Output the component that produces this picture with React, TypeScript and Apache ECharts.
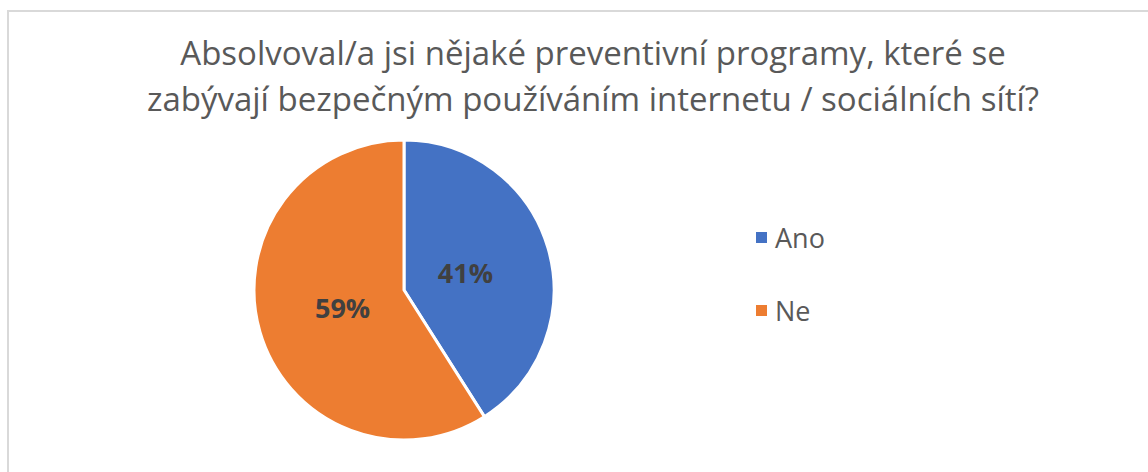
import React, { useEffect, useRef } from "react";
import * as echarts from "echarts";

const titleLines = [
  "Absolvoval/a jsi nějaké preventivní programy, které se",
  "zabývají bezpečným používáním internetu / sociálních sítí?",
];
const categories = ["Ano", "Ne"];
const values = [41, 59];
const colors = ["#4472C4", "#ED7D31"];

export default function App() {
  const ref = useRef<HTMLDivElement>(null);
  useEffect(() => {
    if (!ref.current) return;
    const chart = echarts.init(ref.current, null, { renderer: "svg" });
    const data = categories.map((name, i) => ({
      name,
      value: values[i],
      itemStyle: { color: colors[i] },
    }));
    const font = "'Open Sans', 'Noto Sans', sans-serif";
    chart.setOption({
      animation: false,
      backgroundColor: "#ffffff",
      textStyle: { fontFamily: font },
      title: {
        text: titleLines.join("\n"),
        left: 588,
        top: 24,
        textAlign: "center",
        textStyle: {
          fontFamily: font,
          fontSize: 33,
          fontWeight: "normal",
          color: "#595959",
          lineHeight: 46,
        },
      },
      legend: {
        orient: "vertical",
        left: 749,
        top: 219,
        itemWidth: 13,
        itemHeight: 13,
        itemGap: 46,
        icon: "rect",
        data: categories,
        textStyle: { fontFamily: font, fontSize: 27, color: "#595959", padding: [0, 0, 0, 2] },
      },
      graphic: [
        {
          type: "rect",
          shape: { x: 8, y: 11, width: 1160, height: 480 },
          style: { fill: "none", stroke: "#d9d9d9", lineWidth: 2 },
          silent: true,
        },
      ],
      series: [
        {
          type: "pie",
          center: [404, 290],
          radius: [0, 150],
          startAngle: 90,
          clockwise: true,
          label: { show: false },
          labelLine: { show: false },
          itemStyle: { borderColor: "#ffffff", borderWidth: 3 },
          emphasis: { disabled: true },
          data,
        },
        {
          type: "pie",
          center: [404, 290],
          radius: [0, 122],
          startAngle: 90,
          clockwise: true,
          silent: true,
          itemStyle: { color: "transparent", borderWidth: 0 },
          labelLine: { show: false },
          emphasis: { disabled: true },
          label: {
            show: true,
            position: "inside",
            formatter: (p: any) => `${p.value}%`,
            fontFamily: font,
            fontSize: 27,
            fontWeight: "bold",
            color: "#404040",
          },
          data: categories.map((name, i) => ({
            name,
            value: values[i],
            itemStyle: { color: "transparent" },
          })),
        },
      ],
    });
    return () => chart.dispose();
  }, []);
  return (
    <div
      ref={ref}
      style={{ position: "absolute", left: 0, top: 0, width: 1148, height: 472 }}
    />
  );
}
